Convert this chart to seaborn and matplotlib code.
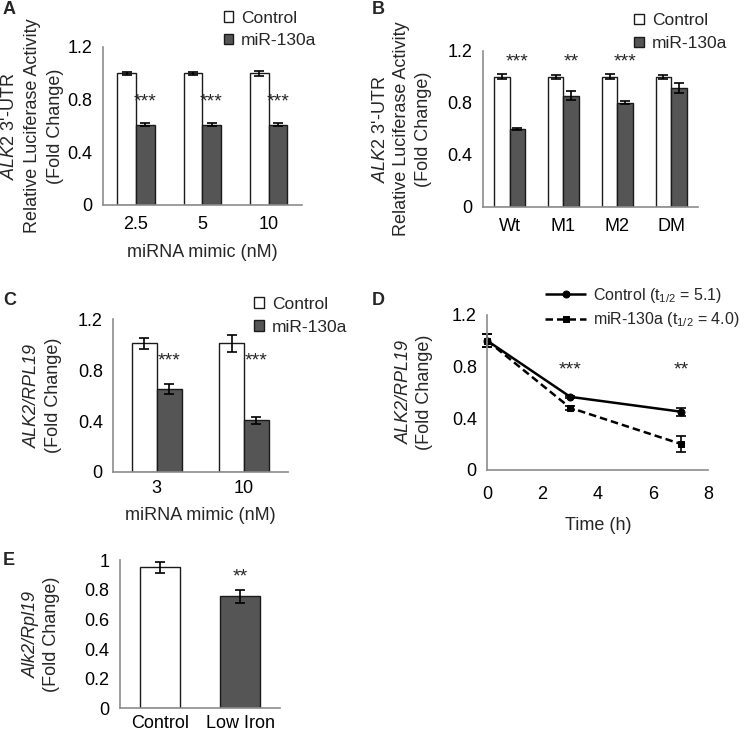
import pandas as pd
import numpy as np
import seaborn as sns
import matplotlib.pyplot as plt

sns.set_theme(style='white')
plt.rcParams['font.family'] = ['Liberation Sans', 'DejaVu Sans']
plt.rcParams['mathtext.fontset'] = 'custom'
plt.rcParams['mathtext.rm'] = 'Liberation Sans'
plt.rcParams['mathtext.it'] = 'Liberation Sans:italic'
plt.rcParams['font.size'] = 12.5

# ---- data ----
# A: luciferase, miRNA mimic dose
a_conc = ['2.5', '5', '10']
a_ctrl = [1.0, 1.0, 1.0]
a_ctrl_err = [0.01, 0.01, 0.02]
a_mir = [0.61, 0.61, 0.61]
a_mir_err = [0.01, 0.01, 0.01]
a_stars = ['***', '***', '***']

# B: luciferase, UTR mutants
b_construct = ['Wt', 'M1', 'M2', 'DM']
b_ctrl = [1.0, 1.0, 1.0, 1.0]
b_ctrl_err = [0.02, 0.015, 0.02, 0.015]
b_mir = [0.60, 0.855, 0.80, 0.915]
b_mir_err = [0.01, 0.035, 0.01, 0.04]
b_stars = ['***', '**', '***', '']

# C: qPCR ALK2/RPL19
c_conc = ['3', '10']
c_ctrl = [1.01, 1.01]
c_ctrl_err = [0.04, 0.065]
c_mir = [0.655, 0.405]
c_mir_err = [0.04, 0.03]
c_stars = ['***', '***']

# D: mRNA decay
d_time = [0, 3, 7]
d_ctrl = [1.0, 0.565, 0.45]
d_ctrl_err = [0.05, 0.01, 0.03]
d_mir = [1.0, 0.48, 0.20]
d_mir_err = [0.05, 0.015, 0.06]
d_star_time = [3, 7]
d_stars = ['***', '**']

# E: low iron
e_group = ['Control', 'Low Iron']
e_vals = [0.95, 0.755]
e_err = [0.04, 0.045]
e_stars = ['', '**']

DARK = '#555555'
SPINE = '#8c8c8c'
EDGE = '#1a1a1a'
FS = 13
W, H = 745, 734


def style_axes(ax):
    sns.despine(ax=ax)
    for s in ['left', 'bottom']:
        ax.spines[s].set_color(SPINE)
        ax.spines[s].set_linewidth(1.2)
    ax.tick_params(axis='both', which='both', direction='out', color=SPINE,
                   width=1.2, length=4, labelsize=FS, labelcolor='black')


def cat_ticks(ax, n, pad):
    ax.set_xlim(-0.5, n - 0.5)
    ax.set_xticks(range(n))
    ax.set_xticks(np.arange(-0.5, n, 1.0), minor=True)
    ax.tick_params(axis='x', which='major', length=0, pad=pad)
    ax.tick_params(axis='x', which='minor', length=4)


def put_ylabel(ax, lines, x_last, step=21.5):
    # each label line drawn as its own rotated text (allows italic lines)
    pos = ax.get_position()
    yc = pos.y0 + pos.height / 2
    n = len(lines)
    for i, (txt, ital) in enumerate(lines):
        x = (x_last - (n - 1 - i) * step) / W
        fig.text(x, yc, txt, rotation=90, ha='center', va='center',
                 fontsize=FS, fontstyle='italic' if ital else 'normal')


def bar_panel(ax, cats, ctrl, ctrl_err, mir, mir_err, stars, star_y, width):
    n = len(cats)
    df = pd.DataFrame({'cat': cats * 2,
                       'group': ['Control'] * n + ['miR-130a'] * n,
                       'val': ctrl + mir})
    sns.barplot(data=df, x='cat', y='val', hue='group', order=cats,
                palette=['white', DARK], edgecolor=EDGE, linewidth=1,
                width=width, errorbar=None, ax=ax)
    centers = []
    for cont, errs in zip(ax.containers, [ctrl_err, mir_err]):
        xs = [b.get_x() + b.get_width() / 2 for b in cont]
        ys = [b.get_height() for b in cont]
        ax.errorbar(xs, ys, yerr=errs, fmt='none', ecolor='black',
                    capsize=3.5, elinewidth=1.2, capthick=1.2)
        centers.append(xs)
    for x, s in zip(centers[1], stars):
        if s:
            ax.text(x, star_y, s, ha='center', va='center', fontsize=14)
    ax.set_ylim(0, 1.2)
    ax.set_yticks([0, 0.4, 0.8, 1.2])
    ax.set_yticklabels(['0', '0.4', '0.8', '1.2'])
    ax.set_xlabel('')
    ax.set_ylabel('')
    style_axes(ax)


def bar_legend(ax, x, y):
    sns.move_legend(ax, 'upper left', bbox_to_anchor=(x, y), frameon=False,
                    title=None, handlelength=0.55, handleheight=0.55,
                    handletextpad=0.45, labelspacing=0.45, fontsize=12.5)


fig = plt.figure(figsize=(7.45, 7.34), dpi=100)

axA = fig.add_axes([0.138, 0.721, 0.267, 0.215])
axB = fig.add_axes([0.648, 0.718, 0.289, 0.213])
axC = fig.add_axes([0.152, 0.357, 0.234, 0.208])
axD = fig.add_axes([0.654, 0.360, 0.297, 0.211])
axE = fig.add_axes([0.161, 0.035, 0.215, 0.202])

luc_label = [("$\\mathit{ALK2}$ 3'-UTR", False),
             ('Relative Luciferase Activity', False),
             ('(Fold Change)', False)]

# A
bar_panel(axA, a_conc, a_ctrl, a_ctrl_err, a_mir, a_mir_err, a_stars, 0.78, 0.56)
cat_ticks(axA, 3, 8)
axA.set_xlabel('miRNA mimic (nM)', fontsize=FS, labelpad=8)
put_ylabel(axA, luc_label, 55, step=22.5)
bar_legend(axA, 0.53, 1.33)

# B
bar_panel(axB, b_construct, b_ctrl, b_ctrl_err, b_mir, b_mir_err, b_stars, 1.11, 0.58)
cat_ticks(axB, 4, 8)
put_ylabel(axB, luc_label, 423)
bar_legend(axB, 0.632, 1.34)

# C
bar_panel(axC, c_conc, c_ctrl, c_ctrl_err, c_mir, c_mir_err, c_stars, 0.87, 0.57)
cat_ticks(axC, 2, 6)
axC.set_xlabel('miRNA mimic (nM)', fontsize=FS, labelpad=7)
put_ylabel(axC, [('ALK2/RPL19', True), ('(Fold Change)', False)], 53, step=20.5)
bar_legend(axC, 0.72, 1.25)

# D
d_df = pd.DataFrame({
    'time': d_time * 2,
    'val': d_ctrl + d_mir,
    'group': ['Control (t$_{1/2}$ = 5.1)'] * 3 + ['miR-130a (t$_{1/2}$ = 4.0)'] * 3,
})
sns.lineplot(data=d_df, x='time', y='val', hue='group', style='group',
             palette=['black', 'black'], markers=['o', 's'],
             dashes=[(1, 0), (3, 1.6)], markersize=5, linewidth=1.8,
             markeredgecolor='black', ax=axD, clip_on=False)
axD.errorbar(d_time, d_ctrl, yerr=d_ctrl_err, fmt='none', ecolor='black',
             capsize=3.5, elinewidth=1.2, capthick=1.2, clip_on=False)
axD.errorbar(d_time, d_mir, yerr=d_mir_err, fmt='none', ecolor='black',
             capsize=3.5, elinewidth=1.2, capthick=1.2, clip_on=False)
for t, s in zip(d_star_time, d_stars):
    axD.text(t, 0.77, s, ha='center', va='center', fontsize=14)
axD.set_xlim(0, 8)
axD.set_ylim(0, 1.2)
axD.set_xticks([0, 2, 4, 6, 8])
axD.set_yticks([0, 0.4, 0.8, 1.2])
axD.set_yticklabels(['0', '0.4', '0.8', '1.2'])
style_axes(axD)
axD.tick_params(axis='x', pad=8)
axD.set_xlabel('Time (h)', fontsize=FS, labelpad=10)
axD.set_ylabel('')
put_ylabel(axD, [('ALK2/RPL19', True), ('(Fold Change)', False)], 425, step=20.5)
sns.move_legend(axD, 'upper left', bbox_to_anchor=(0.195, 1.28), frameon=False,
                title=None, handlelength=2.6, handletextpad=0.45,
                labelspacing=0.35, fontsize=11.5)

# E
e_df = pd.DataFrame({'group': e_group, 'val': e_vals})
sns.barplot(data=e_df, x='group', y='val', hue='group', order=e_group,
            palette=['white', DARK], edgecolor=EDGE, linewidth=1, width=0.5,
            errorbar=None, legend=False, ax=axE)
e_x = []
for cont in axE.containers:
    for b in cont:
        e_x.append(b.get_x() + b.get_width() / 2)
axE.errorbar(e_x, e_vals, yerr=e_err, fmt='none', ecolor='black',
             capsize=3.5, elinewidth=1.2, capthick=1.2)
for x, s in zip(e_x, e_stars):
    if s:
        axE.text(x, 0.885, s, ha='center', va='center', fontsize=14)
axE.set_ylim(0, 1.0)
axE.set_yticks([0, 0.2, 0.4, 0.6, 0.8, 1.0])
axE.set_yticklabels(['0', '0.2', '0.4', '0.6', '0.8', '1'])
style_axes(axE)
cat_ticks(axE, 2, 5)
axE.set_xlabel('')
axE.set_ylabel('')
put_ylabel(axE, [('Alk2/Rpl19', True), ('(Fold Change)', False)], 52, step=20.5)

# panel letters
for lbl, x, y in [('A', 0.004, 0.998), ('B', 0.499, 0.998), ('C', 0.004, 0.602),
                  ('D', 0.499, 0.602), ('E', 0.004, 0.248)]:
    fig.text(x, y, lbl, fontsize=13, fontweight='bold', ha='left', va='top')

fig.savefig('out.png', dpi=100)
